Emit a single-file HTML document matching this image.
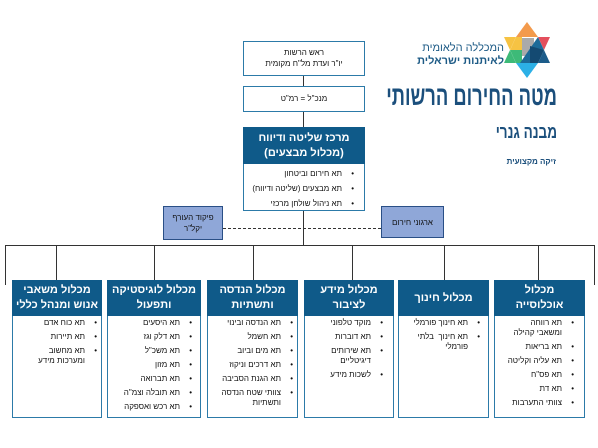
<!DOCTYPE html>
<html><head><meta charset="utf-8"><style>
body{margin:0;width:598px;height:448px;background:#fff;position:relative;overflow:hidden;font-family:"Liberation Sans","Noto Sans CJK JP",sans-serif;color:#111}
.a{position:absolute;box-sizing:border-box}
.bx{border:1.5px solid #2c7aa8;background:#fff;direction:rtl;text-align:center;font-size:8px;line-height:11px}
.hd{background:#0f5a89;color:#fff;font-weight:bold;font-size:11px;line-height:15px;text-align:center;direction:rtl;display:flex;align-items:center;justify-content:center}
ul{margin:0;padding:0 16px 0 4px;direction:rtl;text-align:right;font-size:8px;line-height:10px;list-style:none}
li{position:relative;margin-bottom:4px}
li:before{content:"•";position:absolute;right:-12px}
.ln{position:absolute;background:#333}
.side{background:#8fa7d8;border:1px solid #2a4f86;font-size:8px;line-height:11px;direction:rtl;text-align:center;display:flex;align-items:center;justify-content:center}
</style></head><body>
<div class="ln" style="left:303px;top:76px;width:1px;height:170px"></div>
<div class="ln" style="left:5px;top:245px;width:590px;height:1px"></div>
<div class="ln" style="left:5px;top:245px;width:1px;height:40px"></div>
<div class="ln" style="left:594px;top:245px;width:1px;height:40px"></div>
<div class="ln" style="left:56px;top:245px;width:1px;height:35px"></div>
<div class="ln" style="left:154px;top:245px;width:1px;height:35px"></div>
<div class="ln" style="left:253px;top:245px;width:1px;height:35px"></div>
<div class="ln" style="left:352px;top:245px;width:1px;height:35px"></div>
<div class="ln" style="left:444px;top:245px;width:1px;height:35px"></div>
<div class="ln" style="left:538px;top:245px;width:1px;height:35px"></div>
<div class="a" style="left:223px;top:228px;width:158px;border-top:1px dashed #333"></div>

<div class="a bx" style="left:243px;top:41px;width:122px;height:35px;padding-top:5px">ראש הרשות<br>יו"ר ועדת מל"ח מקומית</div>
<div class="a bx" style="left:243px;top:86px;width:122px;height:26px;padding-top:6px">מנכ"ל = רמ"ט</div>
<div class="a bx" style="left:243px;top:127px;width:122px;height:84px">
<div class="hd" style="height:37px;margin:-1px">מרכז שליטה ודיווח<br>(מכלול מבצעים)</div>
<ul style="margin-top:5px;padding-right:22px;line-height:11px"><li>תא חירום וביטחון</li><li>תא מבצעים (שליטה ודיווח)</li><li>תא ניהול שולחן מרכזי</li></ul></div>
<div class="a side" style="left:163px;top:206px;width:60px;height:34px">פיקוד העורף<br>יקל"ר</div>
<div class="a side" style="left:381px;top:206px;width:63px;height:32px">ארגוני חירום</div>

<svg class="a" style="left:500px;top:20px" width="56" height="60" viewBox="500 20 56 60">
<polygon points="527,22 516,37 538,37" fill="#f39a4c"/>
<polygon points="504,37 516,37 510,50" fill="#f6c343"/>
<polygon points="550,37 538,37 544,50" fill="#e44f5d"/>
<polygon points="504,63 516,63 510,50" fill="#3dba78"/>
<polygon points="550,63 538,63 544,50" fill="#1c5c8a"/>
<polygon points="527,78 516,63 538,63" fill="#2cb0e6"/>
<polygon points="516,37 538,37 544,50 538,63 516,63 510,50" fill="#fff"/>
<polygon points="516,37 522,37 522,50 510,50" fill="#f6c343"/>
<polygon points="510,50 522,50 522,63 516,63" fill="#3dba78"/>
<rect x="522" y="38" width="12" height="18" fill="#aaa"/>
<polygon points="538,37 544,50 538,63 520,63" fill="#1c6a98"/>
<polygon points="530,46 544,50 538,63 530,63" fill="#144a72"/>
</svg>
<div class="a" style="left:400px;top:42px;width:104px;text-align:right;direction:rtl;font-size:11px;line-height:13px;color:#1e5b86">המכללה הלאומית<br><b>לאיתנות ישראלית</b></div>
<div class="a" style="left:300px;top:81px;width:257px;text-align:right;direction:rtl;font-size:27px;font-weight:bold;color:#1b4f7c;white-space:nowrap;transform:scaleX(0.68);transform-origin:right center">מטה החירום הרשותי</div>
<div class="a" style="left:420px;top:122px;width:137px;text-align:right;direction:rtl;font-size:18px;font-weight:bold;color:#1b4f7c;white-space:nowrap;transform:scaleX(0.75);transform-origin:right center">מבנה גנרי</div>
<div class="a" style="left:480px;top:157px;width:76px;text-align:right;direction:rtl;font-size:8px;font-weight:bold;color:#1b4f7c;white-space:nowrap">זיקה מקצועית</div>

<div class="a bx" style="left:12px;top:280px;width:90px;height:138px"><div class="hd" style="height:36px;margin:-1px">מכלול משאבי<br>אנוש ומנהל כללי</div><ul style="margin-top:3px"><li>תא כוח אדם</li><li>תא תיירות</li><li>תא מחשוב<br>ומערכות מידע</li></ul></div>
<div class="a bx" style="left:107px;top:280px;width:94px;height:138px"><div class="hd" style="height:36px;margin:-1px">מכלול לוגיסטיקה<br>ותפעול</div><ul style="margin-top:3px;padding-right:20px"><li>תא היסעים</li><li>תא דלק וגז</li><li>תא משכ"ל</li><li>תא מזון</li><li>תא תברואה</li><li>תא תובלה וצמ"ה</li><li>תא רכש ואספקה</li></ul></div>
<div class="a bx" style="left:207px;top:280px;width:91px;height:138px"><div class="hd" style="height:36px;margin:-1px">מכלול הנדסה<br>ותשתיות</div><ul style="margin-top:3px"><li>תא הנדסה ובינוי</li><li>תא חשמל</li><li>תא מים וביוב</li><li>תא דרכים וניקוז</li><li>תא הגנת הסביבה</li><li>צוותי שטח הנדסה<br>ותשתיות</li></ul></div>
<div class="a bx" style="left:304px;top:280px;width:90px;height:138px"><div class="hd" style="height:36px;margin:-1px">מכלול מידע<br>לציבור</div><ul style="margin-top:3px;padding-right:22px"><li>מוקד טלפוני</li><li>תא דוברות</li><li>תא שירותים<br>דיגיטליים</li><li>לשכות מידע</li></ul></div>
<div class="a bx" style="left:398px;top:280px;width:91px;height:138px"><div class="hd" style="height:36px;margin:-1px">מכלול חינוך</div><ul style="margin-top:3px;padding-right:20px"><li>תא חינוך פורמלי</li><li>תא חינוך &nbsp;בלתי<br>פורמלי</li></ul></div>
<div class="a bx" style="left:494px;top:280px;width:91px;height:138px"><div class="hd" style="height:36px;margin:-1px">מכלול<br>אוכלוסייה</div><ul style="margin-top:3px;padding-right:22px"><li>תא רווחה<br>ומשאבי קהילה</li><li>תא בריאות</li><li>תא עליה וקליטה</li><li>תא פס"ח</li><li>תא דת</li><li>צוותי התערבות</li></ul></div>
</body></html>
